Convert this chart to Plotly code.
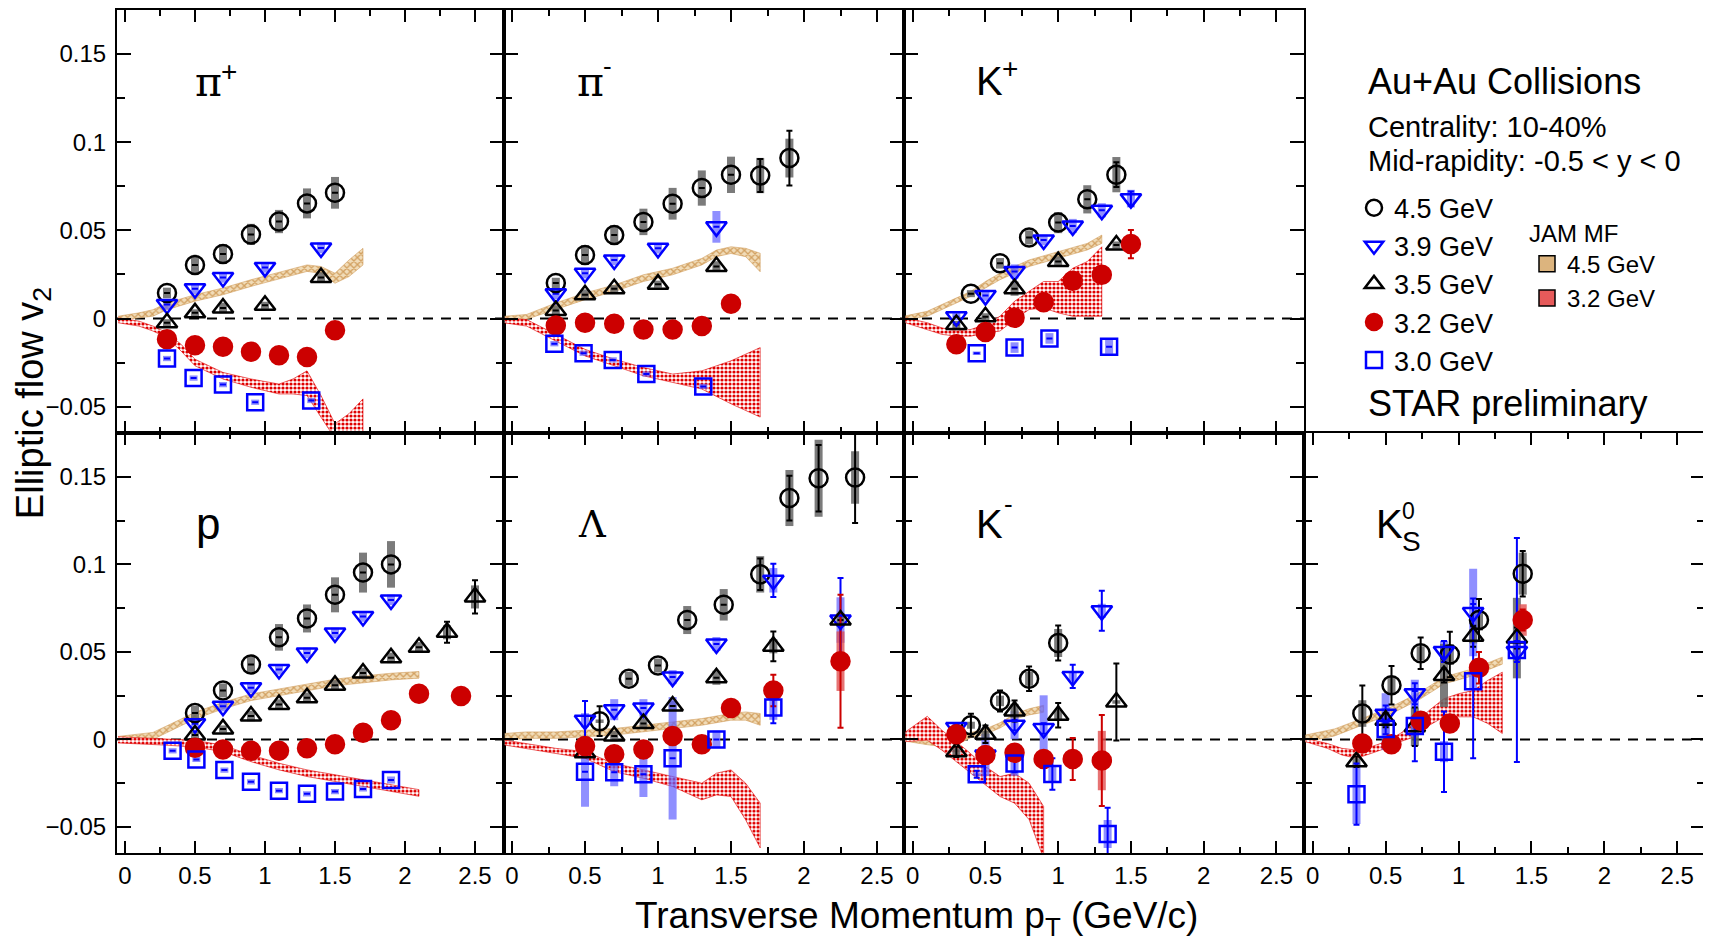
import plotly.graph_objects as go

W, H = 1711, 946
OFF = 8  # page body margin of the browser
FIG_W, FIG_H = W - OFF, H - OFF
FONT = "Liberation Sans, Arial, Helvetica, sans-serif"
SERIF = "DejaVu Serif, Liberation Serif, serif"

# ------------------------------------------------------------------ data
# pi+
PIP_45_X = [0.3, 0.5, 0.7, 0.9, 1.1, 1.3, 1.5]
PIP_45_Y = [0.0145, 0.0304, 0.0366, 0.0477, 0.0550, 0.0653, 0.0713]
PIP_45_STAT = [0, 0, 0, 0, 0, 0, 0]
PIP_45_SYS = [0.003, 0.0047, 0.0056, 0.006, 0.0066, 0.0085, 0.009]
PIP_39_X = [0.3, 0.5, 0.7, 1.0, 1.4]
PIP_39_Y = [0.008, 0.0169, 0.0233, 0.029, 0.040]
PIP_39_STAT = [0, 0, 0, 0, 0]
PIP_39_SYS = [0.003, 0.003, 0.003, 0.003, 0.003]
PIP_35_X = [0.3, 0.5, 0.7, 1.0, 1.4]
PIP_35_Y = [-0.0024, 0.0032, 0.006, 0.0075, 0.0233]
PIP_35_STAT = [0, 0, 0, 0, 0]
PIP_35_SYS = [0.002, 0.002, 0.003, 0.002, 0.003]
PIP_32_X = [0.3, 0.5, 0.7, 0.9, 1.1, 1.3, 1.5]
PIP_32_Y = [-0.0118, -0.0152, -0.016, -0.0188, -0.0208, -0.0218, -0.0066]
PIP_32_STAT = [0, 0, 0, 0, 0, 0, 0]
PIP_32_SYS = [0.001, 0.001, 0.001, 0.001, 0.001, 0.001, 0.001]
PIP_30_X = [0.3, 0.49, 0.7, 0.93, 1.33]
PIP_30_Y = [-0.0227, -0.0338, -0.0375, -0.0475, -0.0465]
PIP_30_STAT = [0, 0, 0, 0, 0]
PIP_30_SYS = [0.0015, 0.0015, 0.0015, 0.0015, 0.0015]
PIP_JAM45_X = [-0.05, 0.1, 0.2, 0.3, 0.5, 0.7, 0.9, 1.1, 1.3, 1.4, 1.5, 1.6, 1.7]
PIP_JAM45_HI = [0.0013, 0.0032, 0.005, 0.0088, 0.0135, 0.0173, 0.022, 0.0263, 0.0304, 0.0295, 0.0257, 0.0332, 0.0398]
PIP_JAM45_LO = [-0.0011, 0.0004, 0.0013, 0.005, 0.0098, 0.0135, 0.0182, 0.0225, 0.0267, 0.0257, 0.020, 0.0238, 0.0304]
PIP_JAM32_X = [-0.05, 0.1, 0.2, 0.3, 0.4, 0.5, 0.7, 0.9, 1.1, 1.2, 1.3, 1.4, 1.5, 1.6, 1.7]
PIP_JAM32_HI = [0.0004, -0.0015, -0.0043, -0.0081, -0.0146, -0.0231, -0.0306, -0.0343, -0.0372, -0.0343, -0.0297, -0.0437, -0.0597, -0.054, -0.0456]
PIP_JAM32_LO = [-0.0024, -0.0043, -0.0071, -0.0109, -0.0184, -0.0268, -0.0343, -0.039, -0.0428, -0.0428, -0.0437, -0.056, -0.068, -0.068, -0.068]

# pi-
PIM_45_X = [0.3, 0.5, 0.7, 0.9, 1.1, 1.3, 1.5, 1.7, 1.9]
PIM_45_Y = [0.0201, 0.036, 0.0473, 0.0548, 0.0651, 0.074, 0.0815, 0.0811, 0.091]
PIM_45_STAT = [0, 0, 0, 0, 0, 0, 0, 0.0094, 0.0155]
PIM_45_SYS = [0.003, 0.0056, 0.0056, 0.0075, 0.009, 0.01, 0.0103, 0.01, 0.011]
PIM_39_X = [0.3, 0.5, 0.7, 1.0, 1.4]
PIM_39_Y = [0.014, 0.0257, 0.0332, 0.0398, 0.052]
PIM_39_STAT = [0, 0, 0, 0, 0]
PIM_39_SYS = [0.003, 0.003, 0.003, 0.003, 0.009]
PIM_35_X = [0.3, 0.5, 0.7, 1.0, 1.4]
PIM_35_Y = [0.0045, 0.0135, 0.0169, 0.0195, 0.0295]
PIM_35_STAT = [0, 0, 0, 0, 0]
PIM_35_SYS = [0.003, 0.003, 0.002, 0.002, 0.003]
PIM_32_X = [0.3, 0.5, 0.7, 0.9, 1.1, 1.3, 1.5]
PIM_32_Y = [-0.0039, -0.0024, -0.003, -0.0062, -0.0062, -0.0043, 0.0084]
PIM_32_STAT = [0, 0, 0, 0, 0, 0, 0]
PIM_32_SYS = [0.001, 0.001, 0.001, 0.001, 0.001, 0.001, 0.001]
PIM_30_X = [0.29, 0.49, 0.69, 0.92, 1.31]
PIM_30_Y = [-0.0143, -0.0197, -0.0235, -0.0315, -0.0385]
PIM_30_STAT = [0, 0, 0, 0, 0]
PIM_30_SYS = [0.0015, 0.0015, 0.0015, 0.0015, 0.0015]
PIM_JAM45_X = [-0.05, 0.1, 0.3, 0.5, 0.7, 0.9, 1.1, 1.3, 1.4, 1.5, 1.6, 1.7]
PIM_JAM45_HI = [0.0013, 0.0023, 0.0088, 0.0145, 0.019, 0.0248, 0.0285, 0.0341, 0.0388, 0.0407, 0.0398, 0.037]
PIM_JAM45_LO = [-0.0011, -0.0004, 0.005, 0.0107, 0.0153, 0.021, 0.0248, 0.0304, 0.0351, 0.0369, 0.0351, 0.0265]
PIM_JAM32_X = [-0.05, 0.1, 0.3, 0.5, 0.7, 0.9, 1.1, 1.3, 1.5, 1.7]
PIM_JAM32_HI = [0.0002, -0.0006, -0.009, -0.0175, -0.0231, -0.0278, -0.0315, -0.0297, -0.024, -0.0165]
PIM_JAM32_LO = [-0.0025, -0.0043, -0.0128, -0.0212, -0.0268, -0.0325, -0.0362, -0.040, -0.0484, -0.0559]

# K+
KP_45_X = [0.4, 0.6, 0.8, 1.0, 1.2, 1.4]
KP_45_Y = [0.0141, 0.0313, 0.046, 0.0544, 0.0676, 0.0816]
KP_45_STAT = [0, 0, 0, 0, 0, 0.007]
KP_45_SYS = [0.002, 0.003, 0.004, 0.006, 0.008, 0.01]
KP_39_X = [0.3, 0.5, 0.7, 0.9, 1.1, 1.3, 1.5]
KP_39_Y = [0.001, 0.013, 0.0267, 0.0445, 0.0525, 0.0614, 0.068]
KP_39_STAT = [0, 0, 0, 0, 0, 0, 0.004]
KP_39_SYS = [0.002, 0.003, 0.004, 0.003, 0.004, 0.004, 0.005]
KP_35_X = [0.3, 0.5, 0.7, 1.0, 1.4]
KP_35_Y = [-0.0034, 0.001, 0.0169, 0.0323, 0.0417]
KP_35_STAT = [0, 0, 0, 0, 0]
KP_35_SYS = [0.002, 0.002, 0.004, 0.003, 0.002]
KP_32_X = [0.3, 0.5, 0.7, 0.9, 1.1, 1.3, 1.5]
KP_32_Y = [-0.0146, -0.0077, 0.0004, 0.0092, 0.0214, 0.0248, 0.0422]
KP_32_STAT = [0, 0, 0, 0, 0, 0, 0.008]
KP_32_SYS = [0.001, 0.001, 0.001, 0.001, 0.001, 0.001, 0.002]
KP_30_X = [0.44, 0.7, 0.94, 1.35]
KP_30_Y = [-0.0197, -0.0165, -0.0113, -0.016]
KP_30_STAT = [0, 0, 0, 0]
KP_30_SYS = [0.001, 0.003, 0.003, 0.004]
KP_JAM45_X = [-0.05, 0.1, 0.2, 0.3, 0.4, 0.5, 0.6, 0.7, 0.8, 1.0, 1.2, 1.3]
KP_JAM45_HI = [0.0015, 0.0041, 0.0079, 0.0116, 0.0154, 0.021, 0.0257, 0.0295, 0.0332, 0.0379, 0.0426, 0.0473]
KP_JAM45_LO = [-0.0006, 0.0013, 0.005, 0.0088, 0.0126, 0.0173, 0.022, 0.0257, 0.0295, 0.0342, 0.0389, 0.0426]
KP_JAM32_X = [-0.05, 0.1, 0.2, 0.3, 0.4, 0.5, 0.6, 0.7, 0.8, 0.9, 1.0, 1.1, 1.2, 1.3]
KP_JAM32_HI = [0.0004, -0.0024, -0.0053, -0.0071, -0.0062, -0.0034, 0.0013, 0.0098, 0.0154, 0.021, 0.021, 0.0285, 0.0323, 0.0407]
KP_JAM32_LO = [-0.0024, -0.0062, -0.009, -0.01, -0.01, -0.0081, -0.0071, -0.0006, 0.0051, 0.006, 0.0032, 0.0013, 0.0013, 0.0013]

# p
P_45_X = [0.5, 0.7, 0.9, 1.1, 1.3, 1.5, 1.7, 1.9]
P_45_Y = [0.0151, 0.028, 0.0428, 0.0583, 0.0691, 0.0826, 0.0953, 0.1]
P_45_STAT = [0, 0, 0, 0, 0, 0, 0, 0]
P_45_SYS = [0.004, 0.004, 0.0045, 0.0076, 0.008, 0.01, 0.0114, 0.0133]
P_39_X = [0.5, 0.7, 0.9, 1.1, 1.3, 1.5, 1.7, 1.9]
P_39_Y = [0.009, 0.019, 0.0295, 0.040, 0.0494, 0.0608, 0.0702, 0.0797]
P_39_STAT = [0, 0, 0, 0, 0, 0, 0, 0]
P_39_SYS = [0.003, 0.003, 0.003, 0.003, 0.003, 0.003, 0.003, 0.003]
P_35_X = [0.5, 0.7, 0.9, 1.1, 1.3, 1.5, 1.7, 1.9, 2.1, 2.3, 2.5]
P_35_Y = [0.0025, 0.006, 0.0134, 0.0199, 0.0238, 0.0309, 0.0379, 0.0466, 0.0526, 0.0612, 0.0814]
P_35_STAT = [0, 0, 0, 0, 0, 0, 0, 0, 0, 0.006, 0.0095]
P_35_SYS = [0.002, 0.002, 0.003, 0.003, 0.003, 0.003, 0.003, 0.003, 0.003, 0.004, 0.0066]
P_32_X = [0.5, 0.7, 0.9, 1.1, 1.3, 1.5, 1.7, 1.9, 2.1, 2.4]
P_32_Y = [-0.0047, -0.0057, -0.0065, -0.0065, -0.0051, -0.0027, 0.0038, 0.011, 0.0261, 0.0248]
P_32_STAT = [0, 0, 0, 0, 0, 0, 0, 0, 0, 0]
P_32_SYS = [0.001, 0.001, 0.001, 0.001, 0.001, 0.001, 0.001, 0.001, 0.001, 0.001]
P_30_X = [0.34, 0.51, 0.71, 0.9, 1.1, 1.3, 1.5, 1.7, 1.9]
P_30_Y = [-0.0065, -0.0114, -0.0175, -0.0242, -0.0293, -0.0311, -0.0298, -0.0283, -0.0232]
P_30_STAT = [0, 0, 0, 0, 0, 0, 0, 0, 0]
P_30_SYS = [0.0015, 0.0015, 0.0015, 0.0015, 0.0015, 0.0015, 0.0015, 0.0015, 0.002]
P_JAM45_X = [-0.05, 0.2, 0.4, 0.5, 0.7, 0.9, 1.1, 1.3, 1.5, 1.7, 1.9, 2.1]
P_JAM45_HI = [0.0017, 0.004, 0.0116, 0.0155, 0.0212, 0.026, 0.0288, 0.0316, 0.0344, 0.0363, 0.0378, 0.0388]
P_JAM45_LO = [-0.0017, 0.0, 0.0078, 0.0117, 0.0174, 0.0222, 0.025, 0.0278, 0.0306, 0.0325, 0.034, 0.035]
P_JAM32_X = [-0.05, 0.3, 0.5, 0.7, 0.9, 1.1, 1.3, 1.5, 1.7, 1.9, 2.1]
P_JAM32_HI = [0.0015, 0.0005, -0.0005, -0.0033, -0.0089, -0.0136, -0.0174, -0.0202, -0.023, -0.0259, -0.0287]
P_JAM32_LO = [-0.002, -0.0033, -0.0043, -0.007, -0.0127, -0.0174, -0.0212, -0.024, -0.0268, -0.0297, -0.0325]

# Lambda
LAM_45_X = [0.6, 0.8, 1.0, 1.2, 1.45, 1.7, 1.9, 2.1, 2.35]
LAM_45_Y = [0.0104, 0.0346, 0.0422, 0.0682, 0.0769, 0.0943, 0.1379, 0.1492, 0.1496]
LAM_45_STAT = [0.0085, 0, 0, 0, 0, 0.009, 0.0128, 0.019, 0.026]
LAM_45_SYS = [0.001, 0.004, 0.004, 0.008, 0.009, 0.0104, 0.016, 0.022, 0.015]
LAM_39_X = [0.5, 0.7, 0.9, 1.1, 1.4, 1.79, 2.25]
LAM_39_Y = [0.011, 0.017, 0.018, 0.0356, 0.0545, 0.0909, 0.0682]
LAM_39_STAT = [0.011, 0, 0, 0, 0, 0.0095, 0.024]
LAM_39_SYS = [0.004, 0.006, 0.005, 0.004, 0.004, 0.007, 0.013]
LAM_35_X = [0.5, 0.7, 0.9, 1.1, 1.4, 1.79, 2.25]
LAM_35_Y = [-0.0076, 0.0019, 0.0091, 0.0191, 0.0352, 0.0532, 0.0682]
LAM_35_STAT = [0, 0, 0, 0, 0, 0.0085, 0]
LAM_35_SYS = [0.003, 0.003, 0.003, 0.003, 0.004, 0.004, 0.004]
LAM_32_X = [0.5, 0.7, 0.9, 1.1, 1.3, 1.5, 1.79, 2.25]
LAM_32_Y = [-0.0038, -0.0084, -0.0057, 0.0019, -0.0027, 0.018, 0.028, 0.0447]
LAM_32_STAT = [0, 0, 0, 0, 0, 0.004, 0.009, 0.038]
LAM_32_SYS = [0.001, 0.001, 0.001, 0.001, 0.001, 0.002, 0.003, 0.017]
LAM_30_X = [0.5, 0.7, 0.9, 1.1, 1.4, 1.79]
LAM_30_Y = [-0.0184, -0.0188, -0.0199, -0.0108, 0.0, 0.0182]
LAM_30_STAT = [0, 0, 0, 0, 0, 0.009]
LAM_30_SYS = [0.02, 0.008, 0.013, 0.035, 0.005, 0.007]
LAM_JAM45_X = [-0.05, 0.1, 0.3, 0.5, 0.7, 0.9, 1.1, 1.3, 1.5, 1.6, 1.7]
LAM_JAM45_HI = [0.0034, 0.0043, 0.0043, 0.0053, 0.0062, 0.0081, 0.01, 0.0119, 0.0148, 0.0157, 0.0148]
LAM_JAM45_LO = [-0.0004, 0.0006, 0.0006, 0.0015, 0.0025, 0.0043, 0.0062, 0.0081, 0.011, 0.011, 0.0081]
LAM_JAM32_X = [-0.05, 0.1, 0.3, 0.5, 0.7, 0.9, 1.1, 1.3, 1.4, 1.5, 1.6, 1.7]
LAM_JAM32_HI = [-0.0004, -0.0023, -0.0051, -0.007, -0.0137, -0.0174, -0.0212, -0.025, -0.0193, -0.0174, -0.025, -0.0364]
LAM_JAM32_LO = [-0.0032, -0.0051, -0.008, -0.0108, -0.0184, -0.0222, -0.0269, -0.0345, -0.0317, -0.0326, -0.0459, -0.062]

# K-
KM_45_X = [0.4, 0.6, 0.8, 1.0]
KM_45_Y = [0.0081, 0.022, 0.0346, 0.0551]
KM_45_STAT = [0.0066, 0.006, 0.007, 0.01]
KM_45_SYS = [0.002, 0.003, 0.004, 0.008]
KM_39_X = [0.3, 0.5, 0.7, 0.9, 1.1, 1.3]
KM_39_Y = [0.0068, -0.0089, 0.0081, 0.0062, 0.036, 0.0735]
KM_39_STAT = [0.002, 0.003, 0.003, 0.003, 0.0066, 0.0114]
KM_39_SYS = [0.002, 0.012, 0.008, 0.019, 0.003, 0.004]
KM_35_X = [0.3, 0.5, 0.7, 1.0, 1.4]
KM_35_Y = [-0.007, 0.003, 0.0163, 0.0138, 0.0214]
KM_35_STAT = [0.003, 0.005, 0.006, 0.007, 0.022]
KM_35_SYS = [0.002, 0.002, 0.004, 0.003, 0.001]
KM_32_X = [0.3, 0.5, 0.7, 0.9, 1.1, 1.3]
KM_32_Y = [0.003, -0.0089, -0.0076, -0.0112, -0.0112, -0.0121]
KM_32_STAT = [0.002, 0.003, 0.003, 0.004, 0.012, 0.026]
KM_32_SYS = [0.002, 0.002, 0.002, 0.003, 0.003, 0.017]
KM_30_X = [0.44, 0.7, 0.96, 1.34]
KM_30_Y = [-0.0199, -0.0137, -0.0197, -0.054]
KM_30_STAT = [0.002, 0.005, 0.009, 0.015]
KM_30_SYS = [0.001, 0.007, 0.004, 0.008]
KM_JAM45_X = [-0.05, 0.1, 0.2, 0.3, 0.4, 0.5, 0.6, 0.7, 0.8, 0.9]
KM_JAM45_HI = [0.002, 0.0, -0.001, 0.0, 0.004, 0.006, 0.0095, 0.0145, 0.0175, 0.0195]
KM_JAM45_LO = [-0.001, -0.003, -0.004, -0.003, 0.001, 0.003, 0.0065, 0.0115, 0.014, 0.0155]
KM_JAM32_X = [-0.05, 0.1, 0.2, 0.37, 0.5, 0.6, 0.7, 0.8, 0.9]
KM_JAM32_HI = [0.0043, 0.0132, 0.0053, -0.0061, -0.0155, -0.0212, -0.0193, -0.025, -0.0383]
KM_JAM32_LO = [-0.0013, -0.0004, -0.0061, -0.0174, -0.0259, -0.0326, -0.0364, -0.0458, -0.068]

# K0S
K0S_45_X = [0.34, 0.54, 0.74, 0.94, 1.14, 1.44]
K0S_45_Y = [0.0148, 0.0309, 0.0492, 0.0485, 0.0682, 0.0947]
K0S_45_STAT = [0.016, 0.011, 0.009, 0.013, 0.012, 0.013]
K0S_45_SYS = [0.0076, 0.005, 0.004, 0.006, 0.006, 0.012]
K0S_39_X = [0.5, 0.7, 0.9, 1.1, 1.4]
K0S_39_Y = [0.0144, 0.0261, 0.0503, 0.0725, 0.0503]
K0S_39_STAT = [0.005, 0.006, 0.006, 0.008, 0.006]
K0S_39_SYS = [0.012, 0.008, 0.006, 0.025, 0.006]
K0S_35_X = [0.3, 0.5, 0.7, 0.9, 1.1, 1.4]
K0S_35_Y = [-0.0127, 0.011, 0.0072, 0.0365, 0.0589, 0.0579]
K0S_35_STAT = [0.003, 0.004, 0.011, 0.004, 0.006, 0.006]
K0S_35_SYS = [0.002, 0.003, 0.011, 0.018, 0.004, 0.023]
K0S_32_X = [0.34, 0.54, 0.74, 0.94, 1.14, 1.44]
K0S_32_Y = [-0.0023, -0.0028, 0.0106, 0.0091, 0.0409, 0.0682]
K0S_32_STAT = [0.003, 0.003, 0.003, 0.004, 0.009, 0.006]
K0S_32_SYS = [0.002, 0.002, 0.002, 0.002, 0.002, 0.009]
K0S_30_X = [0.3, 0.5, 0.7, 0.9, 1.1, 1.4]
K0S_30_Y = [-0.0313, 0.0059, 0.0076, -0.007, 0.0333, 0.0511]
K0S_30_STAT = [0.0175, 0.003, 0.02, 0.023, 0.044, 0.064]
K0S_30_SYS = [0.017, 0.012, 0.006, 0.006, 0.004, 0.004]
K0S_JAM45_X = [-0.05, 0.15, 0.34, 0.54, 0.74, 0.9, 1.1, 1.3]
K0S_JAM45_HI = [0.0025, 0.006, 0.012, 0.0187, 0.0272, 0.0357, 0.0404, 0.047]
K0S_JAM45_LO = [-0.0015, 0.002, 0.008, 0.0147, 0.0232, 0.0317, 0.0364, 0.043]
K0S_JAM32_X = [-0.05, 0.1, 0.2, 0.3, 0.4, 0.5, 0.6, 0.7, 0.8, 0.9, 1.0, 1.1, 1.2, 1.3]
K0S_JAM32_HI = [0.0006, -0.0023, -0.0051, -0.0061, -0.0042, -0.0013, 0.0034, 0.0091, 0.0167, 0.0233, 0.0261, 0.028, 0.0337, 0.0384]
K0S_JAM32_LO = [-0.0013, -0.0051, -0.0089, -0.0108, -0.008, -0.0051, -0.0013, 0.0015, 0.0081, 0.0129, 0.0129, 0.0129, 0.0091, 0.0034]

ENERGY_KEYS = ["45", "39", "35", "32", "30"]
ENERGY_NAMES = ["4.5 GeV", "3.9 GeV", "3.5 GeV", "3.2 GeV", "3.0 GeV"]
JAM_NAMES = ["4.5 GeV", "3.2 GeV"]
X_TICKS = [0, 0.5, 1, 1.5, 2, 2.5]
Y_TICKS = [-0.05, 0, 0.05, 0.1, 0.15]
Y_RANGE = [-0.065, 0.175]

# ------------------------------------------------------------------ tables
PANELS = [
    dict(series={"45": (PIP_45_X, PIP_45_Y, PIP_45_STAT, PIP_45_SYS), "39": (PIP_39_X, PIP_39_Y, PIP_39_STAT, PIP_39_SYS),
                 "35": (PIP_35_X, PIP_35_Y, PIP_35_STAT, PIP_35_SYS), "32": (PIP_32_X, PIP_32_Y, PIP_32_STAT, PIP_32_SYS),
                 "30": (PIP_30_X, PIP_30_Y, PIP_30_STAT, PIP_30_SYS)},
         jam45=(PIP_JAM45_X, PIP_JAM45_HI, PIP_JAM45_LO), jam32=(PIP_JAM32_X, PIP_JAM32_HI, PIP_JAM32_LO)),
    dict(series={"45": (PIM_45_X, PIM_45_Y, PIM_45_STAT, PIM_45_SYS), "39": (PIM_39_X, PIM_39_Y, PIM_39_STAT, PIM_39_SYS),
                 "35": (PIM_35_X, PIM_35_Y, PIM_35_STAT, PIM_35_SYS), "32": (PIM_32_X, PIM_32_Y, PIM_32_STAT, PIM_32_SYS),
                 "30": (PIM_30_X, PIM_30_Y, PIM_30_STAT, PIM_30_SYS)},
         jam45=(PIM_JAM45_X, PIM_JAM45_HI, PIM_JAM45_LO), jam32=(PIM_JAM32_X, PIM_JAM32_HI, PIM_JAM32_LO)),
    dict(series={"45": (KP_45_X, KP_45_Y, KP_45_STAT, KP_45_SYS), "39": (KP_39_X, KP_39_Y, KP_39_STAT, KP_39_SYS),
                 "35": (KP_35_X, KP_35_Y, KP_35_STAT, KP_35_SYS), "32": (KP_32_X, KP_32_Y, KP_32_STAT, KP_32_SYS),
                 "30": (KP_30_X, KP_30_Y, KP_30_STAT, KP_30_SYS)},
         jam45=(KP_JAM45_X, KP_JAM45_HI, KP_JAM45_LO), jam32=(KP_JAM32_X, KP_JAM32_HI, KP_JAM32_LO)),
    dict(series={"45": (P_45_X, P_45_Y, P_45_STAT, P_45_SYS), "39": (P_39_X, P_39_Y, P_39_STAT, P_39_SYS),
                 "35": (P_35_X, P_35_Y, P_35_STAT, P_35_SYS), "32": (P_32_X, P_32_Y, P_32_STAT, P_32_SYS),
                 "30": (P_30_X, P_30_Y, P_30_STAT, P_30_SYS)},
         jam45=(P_JAM45_X, P_JAM45_HI, P_JAM45_LO), jam32=(P_JAM32_X, P_JAM32_HI, P_JAM32_LO)),
    dict(series={"45": (LAM_45_X, LAM_45_Y, LAM_45_STAT, LAM_45_SYS), "39": (LAM_39_X, LAM_39_Y, LAM_39_STAT, LAM_39_SYS),
                 "35": (LAM_35_X, LAM_35_Y, LAM_35_STAT, LAM_35_SYS), "32": (LAM_32_X, LAM_32_Y, LAM_32_STAT, LAM_32_SYS),
                 "30": (LAM_30_X, LAM_30_Y, LAM_30_STAT, LAM_30_SYS)},
         jam45=(LAM_JAM45_X, LAM_JAM45_HI, LAM_JAM45_LO), jam32=(LAM_JAM32_X, LAM_JAM32_HI, LAM_JAM32_LO)),
    dict(series={"45": (KM_45_X, KM_45_Y, KM_45_STAT, KM_45_SYS), "39": (KM_39_X, KM_39_Y, KM_39_STAT, KM_39_SYS),
                 "35": (KM_35_X, KM_35_Y, KM_35_STAT, KM_35_SYS), "32": (KM_32_X, KM_32_Y, KM_32_STAT, KM_32_SYS),
                 "30": (KM_30_X, KM_30_Y, KM_30_STAT, KM_30_SYS)},
         jam45=(KM_JAM45_X, KM_JAM45_HI, KM_JAM45_LO), jam32=(KM_JAM32_X, KM_JAM32_HI, KM_JAM32_LO)),
    dict(series={"45": (K0S_45_X, K0S_45_Y, K0S_45_STAT, K0S_45_SYS), "39": (K0S_39_X, K0S_39_Y, K0S_39_STAT, K0S_39_SYS),
                 "35": (K0S_35_X, K0S_35_Y, K0S_35_STAT, K0S_35_SYS), "32": (K0S_32_X, K0S_32_Y, K0S_32_STAT, K0S_32_SYS),
                 "30": (K0S_30_X, K0S_30_Y, K0S_30_STAT, K0S_30_SYS)},
         jam45=(K0S_JAM45_X, K0S_JAM45_HI, K0S_JAM45_LO), jam32=(K0S_JAM32_X, K0S_JAM32_HI, K0S_JAM32_LO)),
]

BLUE = "#0000ff"
RED = "#cc0000"
GRAY_SYS = "rgba(100,100,100,0.85)"
BLUE_SYS = "rgba(95,95,255,0.7)"
RED_SYS = "rgba(225,80,80,0.8)"
STYLE = {
    "45": dict(symbol="circle-open", color="black", size=18, sys=GRAY_SYS),
    "39": dict(symbol="triangle-down-open", color=BLUE, size=18, sys=BLUE_SYS),
    "35": dict(symbol="triangle-up-open", color="black", size=18, sys=GRAY_SYS),
    "32": dict(symbol="circle", color=RED, size=18, sys=RED_SYS),
    "30": dict(symbol="square-open", color=BLUE, size=16, sys=BLUE_SYS),
}
TAN_PATTERN = dict(shape="x", fgcolor="#d2a060", bgcolor="#f1dcb8", size=5, solidity=0.45, fillmode="replace")
RED_PATTERN = dict(shape=".", fgcolor="#e00000", bgcolor="#ffffff", size=4, solidity=0.5, fillmode="replace")

# layout geometry (pixels of the 1711x946 window)
COLS_PX = [(117, 504), (504, 904), (904, 1304), (1304, 1705)]
ROWS_PX = [(8, 432), (432, 853)]
X_RANGES = [[-0.057, 2.707], [-0.055, 2.685], [-0.06, 2.69], [-0.06, 2.69]]
PANEL_POS = [(0, 0), (0, 1), (0, 2), (1, 0), (1, 1), (1, 2), (1, 3)]


def px(xp):
    return (xp - OFF) / FIG_W


def py(yp):
    return 1 - (yp - OFF) / FIG_H


def nz(vals):
    return [v if v else None for v in vals]


fig = go.Figure()


def axref(i):
    return ("x", "y") if i == 1 else (f"x{i}", f"y{i}")


# bands
for i, pan in enumerate(PANELS, start=1):
    xa, ya = axref(i)
    for key, pattern, edge in (("jam45", TAN_PATTERN, "#d2a060"), ("jam32", RED_PATTERN, "#e00000")):
        bx, hi, lo = pan[key]
        fig.add_trace(go.Scatter(
            x=list(bx) + list(bx)[::-1], y=list(hi) + list(lo)[::-1],
            xaxis=xa, yaxis=ya, mode="lines", fill="toself", fillpattern=pattern,
            line=dict(width=0.6, color=edge), showlegend=False, hoverinfo="skip"))

# systematic bars
for i, pan in enumerate(PANELS, start=1):
    xa, ya = axref(i)
    for key in ENERGY_KEYS:
        xs, ys, stat, sys = pan["series"][key]
        st = STYLE[key]
        fig.add_trace(go.Scatter(
            x=xs, y=ys, xaxis=xa, yaxis=ya, mode="markers",
            marker=dict(size=1, color="rgba(0,0,0,0)"),
            error_y=dict(type="data", array=nz(sys), thickness=8, width=0, color=st["sys"]),
            showlegend=False, hoverinfo="skip"))

# statistical bars
for i, pan in enumerate(PANELS, start=1):
    xa, ya = axref(i)
    for key in ENERGY_KEYS:
        xs, ys, stat, sys = pan["series"][key]
        st = STYLE[key]
        fig.add_trace(go.Scatter(
            x=xs, y=ys, xaxis=xa, yaxis=ya, mode="markers",
            marker=dict(size=1, color="rgba(0,0,0,0)"),
            error_y=dict(type="data", array=nz(stat), thickness=2, width=3, color=st["color"]),
            showlegend=False, hoverinfo="skip"))

# markers
for i, pan in enumerate(PANELS, start=1):
    xa, ya = axref(i)
    for key, name in zip(ENERGY_KEYS, ENERGY_NAMES):
        xs, ys, stat, sys = pan["series"][key]
        st = STYLE[key]
        fig.add_trace(go.Scatter(
            x=xs, y=ys, xaxis=xa, yaxis=ya, mode="markers", name=name,
            marker=dict(symbol=st["symbol"], size=st["size"], color=st["color"],
                        line=dict(width=2.5, color=st["color"])),
            showlegend=(i == 1), legend="legend"))

# JAM MF legend keys
for name, col in zip(JAM_NAMES, ["#dcb47e", "#e65a5a"]):
    fig.add_trace(go.Scatter(
        x=[None], y=[None], mode="markers", name=name, legend="legend2",
        marker=dict(symbol="square", size=16, color=col, line=dict(width=1.5, color="black"))))

# axes
layout = dict(
    width=FIG_W, height=FIG_H, margin=dict(l=0, r=0, t=0, b=0),
    paper_bgcolor="white", plot_bgcolor="white",
    font=dict(family=FONT, color="black"),
    showlegend=True,
)
shapes = []
for i, (r, c) in enumerate(PANEL_POS, start=1):
    x0, x1 = COLS_PX[c]
    y0, y1 = ROWS_PX[r]
    sfx = "" if i == 1 else str(i)
    layout["xaxis" + sfx] = dict(
        domain=[max(0, px(x0)), min(1, px(x1))], range=X_RANGES[c], anchor="y" + sfx,
        tickmode="array", tickvals=X_TICKS, ticks="inside", ticklen=12, tickwidth=1.5, tickcolor="black",
        minor=dict(ticks="inside", ticklen=6, dtick=0.25, tick0=0, tickwidth=1.5, tickcolor="black"),
        showline=True, linewidth=2, linecolor="black", mirror="ticks",
        showgrid=False, zeroline=False, showticklabels=(r == 1),
        tickfont=dict(size=24, family=FONT), fixedrange=True)
    layout["yaxis" + sfx] = dict(
        domain=[max(0, py(y1)), min(1, py(y0))], range=Y_RANGE, anchor="x" + sfx,
        tickmode="array", tickvals=Y_TICKS, ticks="inside", ticklen=14, tickwidth=1.5, tickcolor="black",
        minor=dict(ticks="inside", ticklen=8, dtick=0.025, tick0=0, tickwidth=1.5, tickcolor="black"),
        showline=True, linewidth=2, linecolor="black", mirror="ticks",
        showgrid=False, zeroline=False, showticklabels=(c == 0), ticklabelstandoff=4,
        tickfont=dict(size=24, family=FONT), fixedrange=True)
    shapes.append(dict(type="line", xref=f"x{sfx} domain", x0=0, x1=1, yref="y" + sfx, y0=0, y1=0,
                       line=dict(color="black", width=2, dash="10px,8px"), layer="below"))
layout["shapes"] = shapes

layout["legend"] = dict(x=px(1354), y=py(182), xanchor="left", yanchor="top",
                        font=dict(size=27, family=FONT), bgcolor="rgba(0,0,0,0)", borderwidth=0)
layout["legend2"] = dict(x=px(1527), y=py(209), xanchor="left", yanchor="top",
                         title=dict(text="JAM MF", font=dict(size=24, family=FONT)),
                         font=dict(size=24, family=FONT), bgcolor="rgba(0,0,0,0)", borderwidth=0)


def ann(text, x, y, size, family=FONT, xanchor="left", yanchor="middle", angle=0):
    return dict(text=text, x=px(x), y=py(y), xref="paper", yref="paper", showarrow=False,
                xanchor=xanchor, yanchor=yanchor, textangle=angle,
                font=dict(size=size, family=family, color="black"))


annotations = [
    # panel labels
    ann("π", 193, 80, 41, SERIF), ann("+", 219, 70, 28),
    ann("π", 575, 80, 41, SERIF), ann("-", 601, 64, 26),
    ann("K", 974, 79, 40), ann("+", 1000, 67, 28),
    ann("p", 194, 523, 44),
    ann("Λ", 576, 524, 37, SERIF),
    ann("K", 974, 523, 40), ann("-", 1002, 503, 26),
    ann("K", 1374, 523, 40), ann("0", 1400, 510, 23), ann("S", 1400, 541, 28),
    # header text
    ann("Au+Au Collisions", 1366, 80, 36),
    ann("Centrality: 10-40%", 1366, 125, 29),
    ann("Mid-rapidity: -0.5 &lt; y &lt; 0", 1366, 159, 29),
    ann("STAR preliminary", 1366, 402, 36),
    # axis titles
    ann("Transverse Momentum p<sub>T</sub> (GeV/c)", 916, 918, 37, xanchor="center"),
    ann("Elliptic flow v<sub>2</sub>", 33, 402, 38, xanchor="center", angle=-90),
]
layout["annotations"] = annotations

fig.update_layout(**layout)
fig.write_html("out.html")
